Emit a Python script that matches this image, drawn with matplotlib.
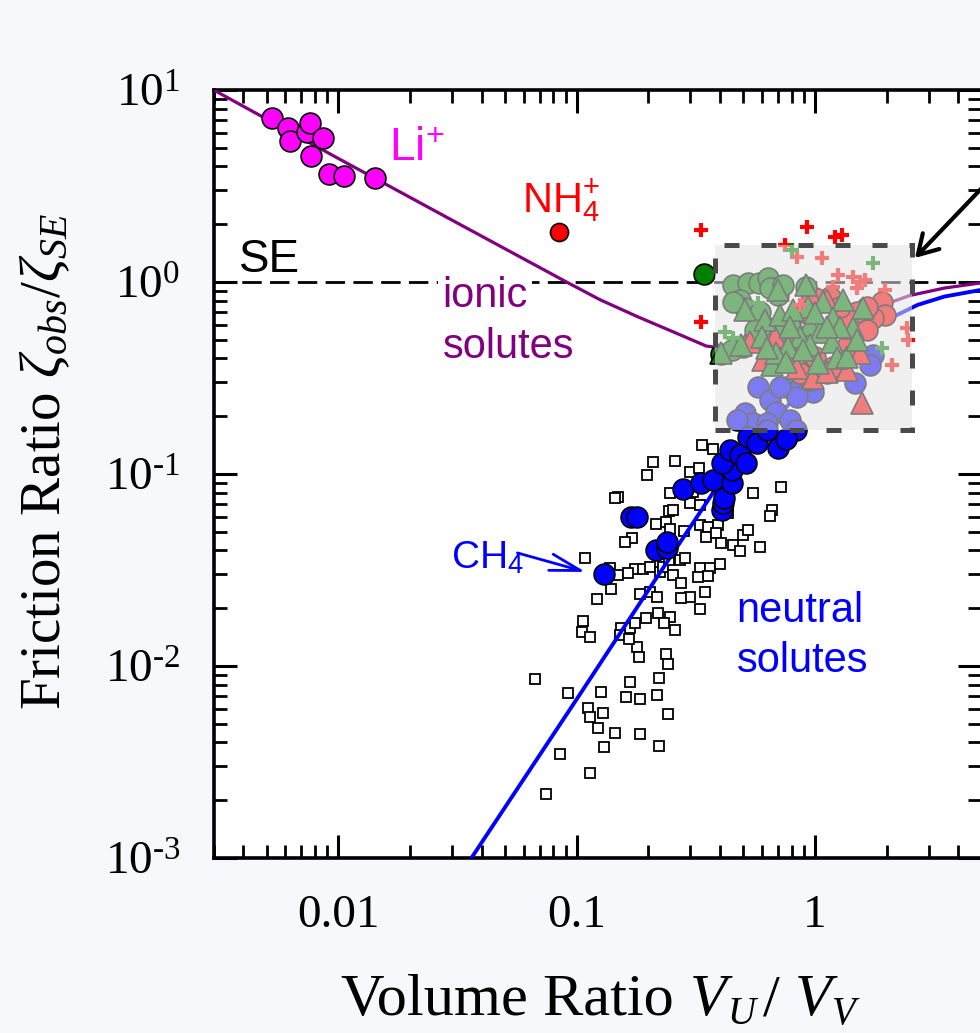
import math
import matplotlib.pyplot as plt
from matplotlib.patches import Rectangle
from matplotlib.ticker import LogLocator, FuncFormatter, NullFormatter

plt.rcParams['font.family'] = 'Liberation Serif'
plt.rcParams['mathtext.fontset'] = 'custom'
plt.rcParams['mathtext.rm'] = 'Liberation Serif'
plt.rcParams['mathtext.it'] = 'Liberation Serif:italic'
plt.rcParams['mathtext.sf'] = 'Liberation Sans'

# guide curves
ionic_x = [0.003, 0.01, 0.03, 0.0907, 0.125, 0.18, 0.25, 0.35, 0.45, 0.6, 0.8, 1.1, 1.5, 2.0, 2.5, 3.5, 5.0]
ionic_y = [10.0, 4.4, 2.1, 1.0, 0.81, 0.66, 0.555, 0.464, 0.445, 0.45, 0.49, 0.57, 0.67, 0.77, 0.85, 0.93, 0.99]
neutral_x = [0.0362, 0.1, 0.2, 0.373, 0.5, 0.65, 0.8, 1.0, 1.3, 1.93, 2.7, 3.5, 5.0]
neutral_y = [0.001, 0.0067, 0.0248, 0.0796, 0.125, 0.18, 0.24, 0.31, 0.42, 0.62, 0.76, 0.84, 0.91]

# Li+ ions
li_x = [0.00526, 0.00618, 0.00628, 0.00741, 0.00763, 0.00865, 0.00768, 0.00917, 0.0106, 0.01426]
li_y = [7.17, 6.36, 5.44, 6.04, 6.76, 5.64, 4.53, 3.64, 3.58, 3.49]

# single solutes
nh4_x, nh4_y = [0.084], [1.815]
grn_x, grn_y = [0.343], [1.10]

# neutral solutes (filled blue, CH4 first)
neu_x = [0.1298, 0.1686, 0.180, 0.2148, 0.2405, 0.2405, 0.2797, 0.332, 0.374, 0.406, 0.412,
         0.416, 0.451, 0.451, 0.406, 0.44, 0.484, 0.516, 0.525, 0.569, 0.701, 0.760, 0.627]
neu_y = [0.0301, 0.0599, 0.0599, 0.0402, 0.0412, 0.0444, 0.0832, 0.0894, 0.0931, 0.065, 0.0704,
         0.0747, 0.0894, 0.105, 0.1137, 0.1334, 0.1256, 0.1137, 0.156, 0.1445, 0.136, 0.152, 0.1696]

# simulation set (open squares)
sq_x = [0.337, 0.374, 0.2094, 0.259, 0.1982, 0.2985, 0.3268, 0.1492, 0.1444, 0.2475,
        0.3083, 0.5507, 0.7197, 0.2443, 0.254, 0.6577, 0.6471, 0.2161, 0.2381, 0.2459,
        0.2816, 0.3288, 0.3563, 0.3926, 0.3506, 0.3862, 0.4055, 0.5, 0.5248, 0.4538,
        0.4842, 0.5912, 0.1714, 0.1592, 0.1081, 0.1376, 0.1753, 0.19, 0.204, 0.2233,
        0.2306, 0.1492, 0.1643, 0.139, 0.1217, 0.1839, 0.2027, 0.2183, 0.254, 0.2752,
        0.2985, 0.2752, 0.3288, 0.3622, 0.3563, 0.3235, 0.399, 0.3451, 0.3288, 0.271,
        0.2844, 0.2443, 0.1064, 0.1057, 0.1141, 0.1541, 0.167, 0.1753, 0.1963, 0.2197,
        0.2459, 0.2321, 0.2599, 0.1799, 0.1828, 0.1517, 0.166, 0.2381, 0.2421, 0.0667,
        0.092, 0.127, 0.167, 0.1607, 0.1851, 0.2169, 0.2212, 0.1116, 0.1134, 0.1291,
        0.123, 0.1454, 0.1851, 0.2421, 0.0854, 0.1298, 0.2218, 0.1134, 0.0746, 0.4324,
        0.2985, 0.3288]
sq_y = [0.1416, 0.1344, 0.115, 0.1173, 0.0988, 0.1028, 0.1071, 0.0756, 0.0747, 0.08,
        0.0809, 0.0793, 0.0859, 0.0642, 0.0649, 0.0649, 0.0604, 0.0547, 0.0565, 0.0517,
        0.0507, 0.0542, 0.0532, 0.0542, 0.0472, 0.0491, 0.0439, 0.0481, 0.051, 0.0427,
        0.0399, 0.0419, 0.0466, 0.0444, 0.0367, 0.0323, 0.032, 0.0319, 0.0329, 0.031,
        0.0329, 0.0298, 0.0304, 0.0251, 0.0224, 0.0236, 0.0244, 0.0228, 0.0298, 0.027,
        0.023, 0.0227, 0.0323, 0.0323, 0.0295, 0.0292, 0.034, 0.0244, 0.0197, 0.0356,
        0.0364, 0.0356, 0.0172, 0.015, 0.0142, 0.0157, 0.0157, 0.0167, 0.0177, 0.0188,
        0.0181, 0.0167, 0.0154, 0.0126, 0.0111, 0.0145, 0.0138, 0.0116, 0.0102, 0.00853,
        0.00727, 0.00729, 0.00828, 0.00692, 0.00673, 0.00706, 0.00869, 0.00602, 0.00541, 0.00572,
        0.00473, 0.0045, 0.00441, 0.00562, 0.00348, 0.0038, 0.00385, 0.00276, 0.00215, 0.0624,
        0.0703, 0.069]

# highlighted cluster
gc_x = [0.454, 0.525, 0.583, 0.637, 0.484, 0.508, 0.679, 0.916, 0.403, 0.607, 0.701, 0.5,
        0.647, 0.736, 0.454, 0.587, 0.560, 0.713, 0.447]
gc_y = [0.965, 0.984, 0.992, 1.045, 0.806, 0.729, 0.927, 0.946, 0.422, 0.597, 0.856, 0.461,
        0.927, 0.965, 0.790, 0.700, 0.562, 0.562, 0.442]
rc_x = [1.905, 1.968, 1.758, 1.648, 1.496, 1.359, 1.156, 1.0, 0.865, 0.736, 0.953, 1.119, 1.359,
        0.551, 0.668, 1.274, 1.648, 0.724, 1.0, 1.194, 0.865]
rc_y = [0.79, 0.673, 0.647, 0.744, 0.70, 0.647, 0.839, 0.822, 0.499, 0.392, 0.348, 0.334, 0.461,
        0.499, 0.541, 0.744, 0.562, 0.461, 0.408, 0.362, 0.334]
rt_x = [1.545, 0.838, 0.984, 1.119, 1.571, 0.679, 1.119, 0.533, 1.336, 0.865, 1.359, 0.607, 0.953]
rt_y = [0.425, 0.355, 0.315, 0.341, 0.233, 0.519, 0.806, 0.489, 0.499, 0.70, 0.348, 0.392, 0.873]
gt_x = [0.701, 0.916, 0.508, 0.403, 0.616, 0.713, 0.811, 0.938, 1.084, 1.315, 1.194, 1.449, 0.953, 0.865,
        1.049, 0.597, 0.492, 0.658, 0.773, 0.953, 1.175, 1.233, 1.033, 1.596, 0.811, 0.690, 1.359,
        0.785, 1.0, 1.274, 1.119, 0.760, 0.893, 1.496, 0.627]
gt_y = [0.909, 0.965, 0.715, 0.425, 0.634, 0.673, 0.634, 0.744, 0.79, 0.806, 0.647, 0.574, 0.597, 0.519,
        0.551, 0.519, 0.47, 0.37, 0.461, 0.47, 0.489, 0.40, 0.377, 0.729, 0.715, 0.425, 0.408,
        0.585, 0.687, 0.585, 0.585, 0.385, 0.442, 0.499, 0.451]
bc_x = [0.578, 0.647, 0.690, 0.508, 0.551, 0.627, 0.785, 0.760, 0.865, 0.984, 0.953, 1.472, 1.758,
        1.702, 0.837, 0.469, 0.713, 0.838]
bc_y = [0.285, 0.243, 0.211, 0.207, 0.184, 0.184, 0.191, 0.285, 0.285, 0.268, 0.309, 0.297, 0.417,
        0.37, 0.17, 0.191, 0.285, 0.253]
rp_x = [0.334, 0.923, 1.213, 1.302, 0.334, 0.748, 0.838, 1.067, 1.253, 1.449, 1.545, 1.622, 1.496,
        1.194, 1.968, 2.10, 2.427, 2.466, 0.865]
rp_y = [1.866, 1.941, 1.722, 1.757, 0.621, 1.559, 1.355, 1.328, 1.087, 1.066, 1.0, 1.02, 0.927,
        0.946, 0.909, 0.37, 0.574, 0.499, 0.759]
gp_x = [0.798, 1.758, 0.578, 0.419, 0.454, 1.905]
gp_y = [1.468, 1.251, 0.774, 0.551, 0.509, 0.452]

# zoom box corners
box_x = [0.380, 2.548]
box_y = [0.1695, 1.559]

fig = plt.figure(figsize=(9.8, 10.33), dpi=100, facecolor='#f7f8fc')
ax = fig.add_axes([0.218, 0.1694, 0.7835, 0.7435])
ax.set_facecolor('white')
ax.set_xscale('log')
ax.set_yscale('log')
ax.set_xlim(0.003, 5)
ax.set_ylim(1e-3, 10)

ax.axhline(1.0, color='black', lw=2, dashes=(7, 3), zorder=2)
ax.plot(sq_x, sq_y, 's', ms=7, mfc='white', mec='black', mew=1.3, ls='none', zorder=3)
ax.plot(ionic_x, ionic_y, color='#800080', lw=2.3, zorder=4)
ax.plot(neutral_x, neutral_y, color='#0000ff', lw=2.8, zorder=4)

circ = dict(ls='none', marker='o', ms=15, mec='black', mew=1.2, zorder=5)
tri = dict(ls='none', marker='^', ms=16.5, mec='black', mew=1.2, zorder=5)
plus = dict(ls='none', marker='+', ms=10, mew=3, zorder=5)

ax.plot(li_x, li_y, mfc='#ff00ff', **circ)
ax.plot(nh4_x, nh4_y, mfc='#ff0000', **{**circ, 'ms': 13})
ax.plot(grn_x, grn_y, mfc='#008000', **circ)
ax.plot(bc_x, bc_y, mfc='#0000ff', **circ)
ax.plot(rc_x, rc_y, mfc='#ff0000', **circ)
ax.plot(gc_x, gc_y, mfc='#008000', **circ)
ax.plot(rt_x, rt_y, mfc='#ff0000', **tri)
ax.plot(gt_x, gt_y, mfc='#008000', **tri)
ax.plot(rp_x, rp_y, color='#ff0000', **plus)
ax.plot(gp_x, gp_y, color='#008000', **plus)
ax.plot(neu_x, neu_y, mfc='#0000ff', **circ)

# translucent frame over the crowded region
bw, bh = box_x[1] - box_x[0], box_y[1] - box_y[0]
ax.add_patch(Rectangle((box_x[0], box_y[0]), bw, bh, facecolor='#e4e4e4',
                       alpha=0.55, edgecolor='none', zorder=6))
ax.add_patch(Rectangle((box_x[0], box_y[0]), bw, bh, fill=False, edgecolor='#4a4a4a',
                       lw=3.6, linestyle=(0, (3, 4.4)), zorder=7))

ax.annotate('', xy=(2.63, 1.334), xytext=(5.99, 3.88), annotation_clip=False,
            arrowprops=dict(arrowstyle='->,head_length=0.69,head_width=0.41',
                            mutation_scale=20, lw=3, color='black', shrinkA=0, shrinkB=0),
            zorder=8)
ax.annotate('', xy=(0.109, 0.0309), xytext=(0.0565, 0.0388),
            arrowprops=dict(arrowstyle='->,head_length=1.1,head_width=0.3',
                            mutation_scale=20, lw=2, color='#0000ff', shrinkA=0, shrinkB=0),
            zorder=8)

sans = 'Liberation Sans'
ax.text(0.00384, 1.127, 'SE', family=sans, fontsize=33, color='black', zorder=8)
ax.text(0.01637, 4.32, r'Li$^{\mathsf{+}}$', family=sans, fontsize=33, color='#ff00ff', zorder=8)
ax.text(0.0593, 2.29, r'NH$_{\mathsf{4}}^{\mathsf{+}}$', family=sans, fontsize=30, color='#ff0000', zorder=8)
ax.text(0.02735, 0.741, 'ionic', family=sans, fontsize=30, color='#800080', zorder=3,
        bbox=dict(boxstyle='square,pad=0.1', facecolor='white', edgecolor='none'))
ax.text(0.02735, 0.402, 'solutes', family=sans, fontsize=30, color='#800080', zorder=8)
ax.text(0.02985, 0.0324, r'CH$_{\mathsf{4}}$', family=sans, fontsize=28, color='#0000ff', zorder=8)
ax.text(0.470, 0.01695, 'neutral', family=sans, fontsize=30, color='#0000ff', zorder=8)
ax.text(0.470, 0.00931, 'solutes', family=sans, fontsize=30, color='#0000ff', zorder=8)


def pow10_label(v, pos):
    e = int(round(math.log10(v)))
    sign = '\u2010' if e < 0 else ''
    return r'$\mathregular{10^{%s%d}}$' % (sign, abs(e))


ax.xaxis.set_major_locator(LogLocator(base=10))
ax.xaxis.set_minor_locator(LogLocator(base=10, subs=range(2, 10)))
ax.yaxis.set_major_locator(LogLocator(base=10))
ax.yaxis.set_minor_locator(LogLocator(base=10, subs=range(2, 10)))
ax.xaxis.set_major_formatter(FuncFormatter(lambda v, p: '%g' % v))
ax.yaxis.set_major_formatter(FuncFormatter(pow10_label))
ax.xaxis.set_minor_formatter(NullFormatter())
ax.yaxis.set_minor_formatter(NullFormatter())

ax.tick_params(which='both', direction='in', top=True, right=True, labelsize=34)
ax.tick_params(which='major', length=16.5, width=2.2)
ax.tick_params(which='minor', length=9.5, width=2)
ax.tick_params(axis='x', which='major', pad=26)
ax.tick_params(axis='y', which='major', pad=24)
for s in ax.spines.values():
    s.set_linewidth(2.6)

# x-axis title, built piece by piece so the subscripts sit low
W, H = 980, 1033
xlab = [('Volume Ratio', 341, 1015, 43.5, 'normal'),
        ('V', 690, 1015, 43.5, 'italic'),
        ('U', 727, 1024, 28, 'italic'),
        ('/', 763, 1015, 43.5, 'normal'),
        ('V', 795, 1015, 43.5, 'italic'),
        ('V', 832, 1024, 28, 'italic')]
for s, px, py, size, style in xlab:
    fig.text(px / W, 1 - py / H, s, fontsize=size, style=style, ha='left', va='baseline')

fig.text(45 / W, 1 - 462 / H, r'Friction Ratio $\zeta_{obs}/\zeta_{SE}$', fontsize=41,
         rotation=90, ha='center', va='center')

fig.savefig('out.png', dpi=100, facecolor=fig.get_facecolor())
